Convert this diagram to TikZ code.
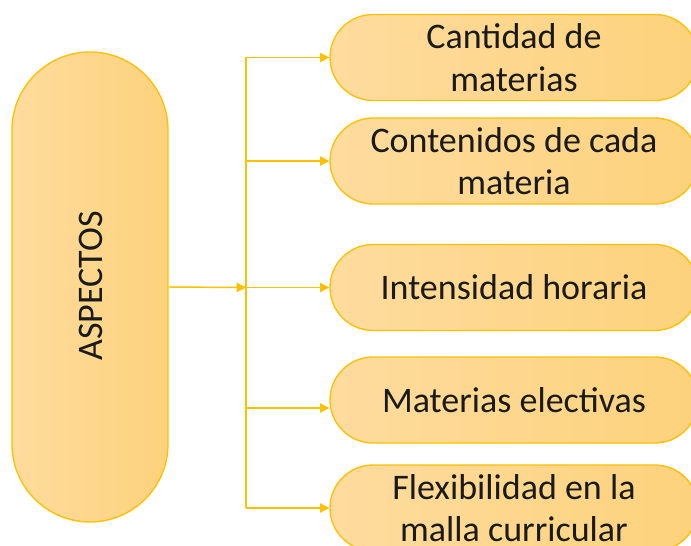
\documentclass[tikz,border=0pt]{standalone}
\usepackage{fontspec}
\setmainfont{Carlito}
\usetikzlibrary{arrows.meta,calc}
\definecolor{gold}{HTML}{FFC000}
\definecolor{fillL}{HTML}{FEDC9E}
\definecolor{fillR}{HTML}{FDD27C}
\definecolor{txt}{HTML}{1A1A1A}
\tikzset{
  pill/.style={draw=gold, line width=1pt, left color=fillL, right color=fillR,
    minimum width=276pt, minimum height=64.5pt, rounded corners=32.25pt,
    align=center, text=txt, font=\fontsize{27}{32}\selectfont, inner sep=0pt},
  bigpill/.style={draw=gold, line width=1pt, left color=fillL, right color=fillR,
    minimum width=117pt, minimum height=352.5pt, rounded corners=58.5pt, inner sep=0pt},
  conn/.style={draw=gold, line width=1.1pt, -{Triangle[length=7pt,width=7pt]}},
  wire/.style={draw=gold, line width=1.1pt}
}
\begin{document}
\begin{tikzpicture}[x=0.75pt,y=-0.75pt]
\useasboundingbox (0,0) rectangle (691,545);
\clip (0,0) rectangle (691,545);
\node[bigpill] (L) at (90,287) {};
\node[rotate=90, text=txt, font=\fontsize{27}{32}\selectfont] (Lt) at (91,286) {ASPECTOS};
\node[pill] (b1) at (514,57.5) {Cantidad de\\materias};
\node[pill] (b2) at (514,161) {Contenidos de cada\\materia};
\node[pill] (b3) at (514,287.5) {Intensidad horaria};
\node[pill] (b4) at (514,400) {Materias electivas};
\node[pill] (b5) at (514,508) {Flexibilidad en la\\malla curricular};
\coordinate (j) at (246,287.5);
\coordinate (b4in) at ([yshift=-6pt]b4.west);
\draw[wire] (j |- b1.west) -- (j |- b5.west);
\draw[conn] (L.east) -- (j);
\draw[conn] (j |- b1.west) -- (b1.west);
\draw[conn] (j |- b2.west) -- (b2.west);
\draw[conn] (j) -- (b3.west);
\draw[conn] (j |- b4in) -- (b4in);
\draw[conn] (j |- b5.west) -- (b5.west);
\end{tikzpicture}
\end{document}
